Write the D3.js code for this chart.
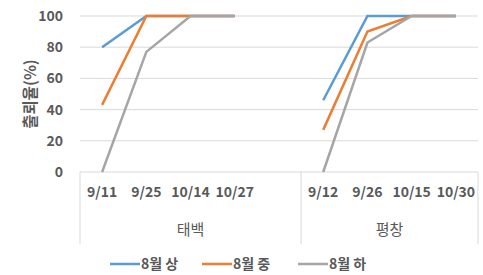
<!DOCTYPE html>
<html>
<head>
<meta charset="utf-8">
<script src="https://cdn.jsdelivr.net/npm/d3@7"></script>
<style>
  body { margin: 0; background: #fff; }
  text { font-family: "Noto Sans CJK KR", "Noto Sans", sans-serif; }
</style>
</head>
<body>
<svg id="chart" width="483" height="275"></svg>
<script>
// groups and their date categories (태백 has a trailing empty slot, like the original)
const groups = ["태백", "평창"];
const taebaekDates = ["9/11", "9/25", "10/14", "10/27", ""];
const pyeongchangDates = ["9/12", "9/26", "10/15", "10/30"];
const seriesNames = ["8월 상", "8월 중", "8월 하"];
const colors = ["#5b9bd5", "#ed7d31", "#a5a5a5"];

// values per series, per group
const taebaekValues = [
  [80, 100, 100, 100],
  [43, 100, 100, 100],
  [0, 77, 100, 100]
];
const pyeongchangValues = [
  [46, 100, 100, 100],
  [27, 90, 100, 100],
  [0, 83, 100, 100]
];
const yTicks = [0, 20, 40, 60, 80, 100];

const svg = d3.select("#chart");
const plot = { left: 80, right: 478, top: 16, bottom: 172 };

const keys = [
  ...taebaekDates.map((d, i) => "태백|" + i),
  ...pyeongchangDates.map((d, i) => "평창|" + i)
];
const labelOf = {};
taebaekDates.forEach((d, i) => (labelOf["태백|" + i] = d));
pyeongchangDates.forEach((d, i) => (labelOf["평창|" + i] = d));

const x = d3.scaleBand().domain(keys).range([plot.left, plot.right]).padding(0);
const y = d3.scaleLinear().domain([0, 100]).range([plot.bottom, plot.top]);

// gridlines
svg.append("g")
  .selectAll("line")
  .data(yTicks)
  .join("line")
  .attr("x1", plot.left)
  .attr("x2", plot.right)
  .attr("y1", (d) => y(d))
  .attr("y2", (d) => y(d))
  .attr("stroke", "#d9d9d9")
  .attr("stroke-width", 1);

// y axis labels
svg.append("g")
  .attr("transform", `translate(${plot.left},0)`)
  .call(d3.axisLeft(y).tickValues(yTicks).tickSize(0).tickPadding(17))
  .call((g) => g.select(".domain").remove())
  .call((g) =>
    g.selectAll("text")
      .attr("fill", "#595959")
      .style("font-size", "14px")
      .style("font-weight", "bold")
      .style("font-family", "'Noto Sans CJK KR', sans-serif")
  );

// y title
svg.append("text")
  .attr("transform", `translate(36,94) rotate(-90)`)
  .attr("text-anchor", "middle")
  .attr("fill", "#595959")
  .style("font-size", "15.5px")
  .style("font-weight", "bold")
  .text("출뢰율(%)");

// category separators
const sepX = [plot.left, x("평창|0"), plot.right];
svg.append("g")
  .selectAll("line")
  .data(sepX)
  .join("line")
  .attr("x1", (d) => d)
  .attr("x2", (d) => d)
  .attr("y1", plot.bottom)
  .attr("y2", 244)
  .attr("stroke", "#d9d9d9");

// date labels
svg.append("g")
  .selectAll("text")
  .data(keys.filter((k) => labelOf[k] !== ""))
  .join("text")
  .attr("x", (k) => x(k) + x.bandwidth() / 2)
  .attr("y", 197)
  .attr("text-anchor", "middle")
  .attr("fill", "#595959")
  .style("font-size", "14px")
  .style("font-weight", "bold")
  .text((k) => labelOf[k]);

// group labels
const groupSpan = {
  "태백": [plot.left, x("평창|0")],
  "평창": [x("평창|0"), plot.right]
};
svg.append("g")
  .selectAll("text")
  .data(groups)
  .join("text")
  .attr("x", (g) => (groupSpan[g][0] + groupSpan[g][1]) / 2)
  .attr("y", 235)
  .attr("text-anchor", "middle")
  .attr("fill", "#595959")
  .style("font-size", "15px")
  .text((g) => g);

// lines
const line = d3.line()
  .x((d) => x(d.key) + x.bandwidth() / 2)
  .y((d) => y(d.value));

seriesNames.forEach((name, si) => {
  const parts = [
    taebaekValues[si].map((v, i) => ({ key: "태백|" + i, value: v })),
    pyeongchangValues[si].map((v, i) => ({ key: "평창|" + i, value: v }))
  ];
  svg.append("g")
    .selectAll("path")
    .data(parts)
    .join("path")
    .attr("d", line)
    .attr("fill", "none")
    .attr("stroke", colors[si])
    .attr("stroke-width", 2.5);
});

// legend
const legendX = [110, 202, 298];
const legend = svg.append("g")
  .selectAll("g")
  .data(seriesNames)
  .join("g")
  .attr("transform", (d, i) => `translate(${legendX[i]},264)`);
legend.append("line")
  .attr("x1", 0)
  .attr("x2", 30)
  .attr("stroke", (d, i) => colors[i])
  .attr("stroke-width", 2.5);
legend.append("text")
  .attr("x", 31)
  .attr("y", 5)
  .attr("fill", "#595959")
  .style("font-size", "14px")
  .style("font-weight", "bold")
  .text((d) => d);
</script>
</body>
</html>
